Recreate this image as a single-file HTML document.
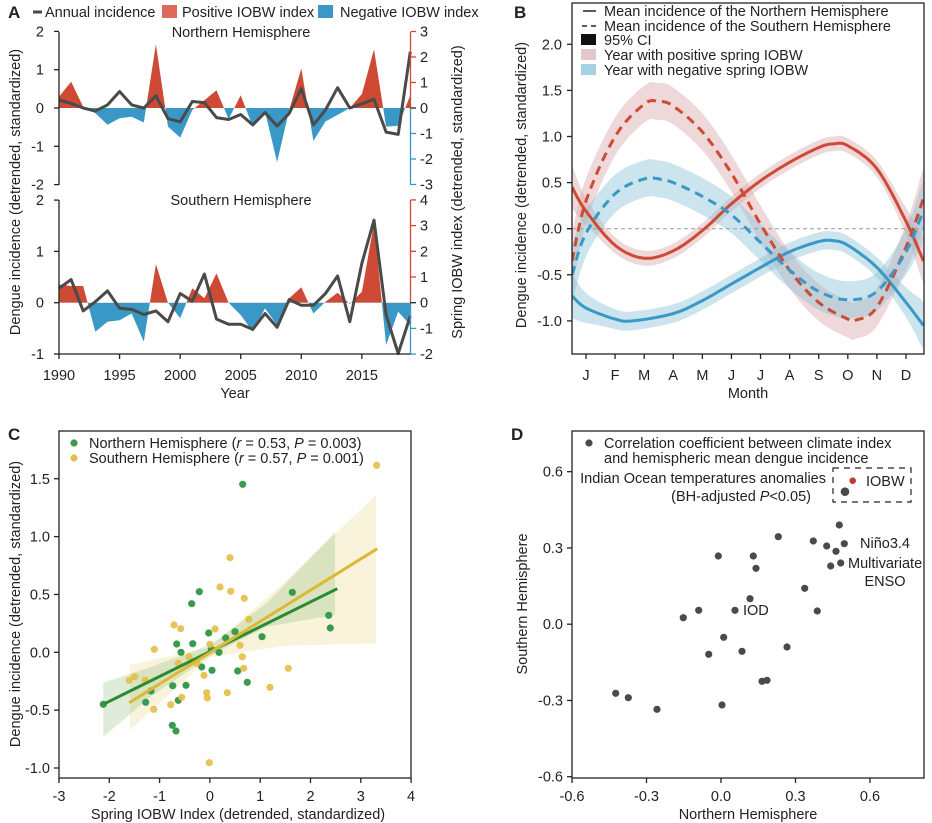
<!DOCTYPE html>
<html><head><meta charset="utf-8"><style>
html,body{margin:0;padding:0;background:#fff;}
svg{display:block;font-family:"Liberation Sans",sans-serif;}
text{fill:#222;}
</style></head><body>
<svg id="s" width="932" height="823" xmlns="http://www.w3.org/2000/svg">
<defs>
<clipPath id="cpA1"><rect x="59" y="0" width="352" height="108"/></clipPath>
<clipPath id="cnA1"><rect x="59" y="108" width="352" height="100"/></clipPath>
<clipPath id="cpA2"><rect x="59" y="150" width="352" height="152.7"/></clipPath>
<clipPath id="cnA2"><rect x="59" y="302.7" width="352" height="100"/></clipPath>
<clipPath id="cB"><rect x="572" y="3" width="352" height="351"/></clipPath>
</defs>
<g id="g"></g>
</svg>
<script>
var S='';
function T(x,y,t,o){o=o||{};S+='<text x="'+x+'" y="'+y+'" font-size="'+(o.fs||14.5)+'"'+(o.a?' text-anchor="'+o.a+'"':'')+(o.fw?' font-weight="bold"':'')+(o.tr?' transform="'+o.tr+'"':'')+(o.fill?' style="fill:'+o.fill+'"':'')+'>'+t+'</text>';}
function L(x1,y1,x2,y2,c,w,d){S+='<line x1="'+x1+'" y1="'+y1+'" x2="'+x2+'" y2="'+y2+'" stroke="'+(c||'#222')+'" stroke-width="'+(w||1.3)+'"'+(d?' stroke-dasharray="'+d+'"':'')+'/>';}
function C(x,y,r,c){S+='<circle cx="'+x+'" cy="'+y+'" r="'+r+'" fill="'+c+'"/>';}
var red='#cf4a35',blue='#3a98c6',gray='#4a4a4a';
// ---------- Panel A
T(8,18,'A',{fs:17,fw:1});
L(33,12,42,12,gray,3);T(45,17,'Annual incidence');
S+='<rect x="162" y="5" width="15" height="13" fill="#dd6a5a"/>';T(182,17,'Positive IOBW index');
S+='<rect x="318" y="5" width="15" height="13" fill="'+blue+'"/>';T(340,17,'Negative IOBW index');
function yx(yr){return 59+(yr-1990)*12.115;}
var nhI=[0.21,0.12,0,-0.08,0.08,0.43,0.08,0,0.32,-0.28,-0.36,0.17,0.14,-0.25,-0.3,-0.17,-0.44,-0.12,-0.47,-0.14,0.51,-0.44,-0.05,0.53,0,0.11,0.23,-0.63,-0.69,1.47];
var nhO=[0.44,1.03,0.05,-0.2,-0.66,-0.4,-0.34,-0.57,2.5,-0.73,-1.16,-0.08,0.3,0.7,-0.43,0.5,-0.73,-0.14,-2.12,-0.08,1.55,-1.29,-0.53,-0.27,0,0.55,2.3,-0.73,-0.7,0.5];
var shI=[0.28,0.45,-0.16,0.02,0.23,-0.11,-0.13,-0.23,-0.16,-0.37,0.18,0.03,0.56,-0.32,-0.42,-0.42,-0.52,-0.21,-0.48,0.06,-0.05,-0.05,0.18,0.52,-0.37,0.77,1.61,-0.24,-0.99,-0.26];
var shO=[0.71,0.65,0.65,-1.13,-0.74,-0.68,-0.42,-1.52,1.5,0,-0.6,0.56,0.17,1.14,0,-0.48,-1.13,-0.22,-0.87,0.17,0.6,-0.42,0.04,0.39,-0.05,0.43,3.1,-1.65,-0.35,-0.87];
function areaA(d,y0,u,cp,cn){var p=yx(1990)+','+y0;for(var i=0;i<d.length;i++)p+=' '+yx(1990+i).toFixed(1)+','+(y0-d[i]*u).toFixed(1);p+=' '+yx(2019)+','+y0;
S+='<polygon points="'+p+'" fill="'+red+'" clip-path="url(#'+cp+')"/>';S+='<polygon points="'+p+'" fill="'+blue+'" clip-path="url(#'+cn+')"/>';}
function lineA(d,y0,u){var p='';for(var i=0;i<d.length;i++)p+=yx(1990+i).toFixed(1)+','+(y0-d[i]*u).toFixed(1)+' ';S+='<polyline points="'+p+'" fill="none" stroke="'+gray+'" stroke-width="3" stroke-linejoin="round"/>';}
areaA(nhO,108,25.5,'cpA1','cnA1');lineA(nhI,108,38.3);
areaA(shO,302.7,25.7,'cpA2','cnA2');lineA(shI,302.7,51.3);
L(59,32,59,185);[2,1,0,-1,-2].forEach(function(v){var y=108-v*38.3;L(54,y,59,y);T(44,y+5,v==0?'0':(v<0?'-'+(-v):v),{a:'end'});});
L(410.5,32,410.5,108,red);L(410.5,108,410.5,185,blue);
[3,2,1,0,-1,-2,-3].forEach(function(v){var y=108-v*25.5;L(410.5,y,416,y,v>0?red:(v<0?blue:'#222'));T(420,y+5,v<0?'-'+(-v):v);});
T(241,37,'Northern Hemisphere',{a:'middle'});
L(59,200,59,354);[2,1,0,-1].forEach(function(v){var y=302.7-v*51.3;L(54,y,59,y);T(44,y+5,v<0?'-'+(-v):v,{a:'end'});});
L(410.5,200,410.5,302.7,red);L(410.5,302.7,410.5,354,blue);
[4,3,2,1,0,-1,-2].forEach(function(v){var y=302.7-v*25.7;L(410.5,y,416,y,v>0?red:(v<0?blue:'#222'));T(420,y+5,v<0?'-'+(-v):v);});
T(241,205,'Southern Hemisphere',{a:'middle'});
L(59,354,410.5,354);
[1990,1995,2000,2005,2010,2015].forEach(function(y){var x=yx(y);L(x,354,x,359);T(x,380,y,{a:'middle'});});
T(235,398,'Year',{a:'middle'});
T(20,192,'Dengue incidence (detrended, standardized)',{a:'middle',tr:'rotate(-90 20 192)'});
T(462,192,'Spring IOBW index (detrended, standardized)',{a:'middle',tr:'rotate(-90 462 192)'});
// ---------- Panel B
T(514,18,'B',{fs:17,fw:1});
function bx(t){return 586+t*29.09;}function by(v){return 228.7-v*92.2;}
function cr(pts,n){var out=[];for(var i=0;i<pts.length-1;i++){var p0=pts[i-1]||pts[i],p1=pts[i],p2=pts[i+1],p3=pts[i+2]||pts[i+1];for(var k=0;k<n;k++){var s=k/n,s2=s*s,s3=s2*s;var f=function(a,b,c,d){return 0.5*((2*b)+(-a+c)*s+(2*a-5*b+4*c-d)*s2+(-a+3*b-3*c+d)*s3);};out.push([f(p0[0],p1[0],p2[0],p3[0]),f(p0[1],p1[1],p2[1],p3[1])]);}}out.push(pts[pts.length-1]);return out;}
var curves=[
{c:red,d:0,hw:0.08,he:0.16,p:[[-0.48,0.45],[0,0.19],[1,-0.18],[2,-0.32],[3,-0.24],[4,-0.02],[5,0.27],[6,0.52],[7,0.72],[8,0.88],[8.5,0.92],[9,0.9],[10,0.65],[11,0.08],[11.6,-0.35]]},
{c:blue,d:0,hw:0.1,he:0.15,p:[[-0.48,-0.73],[0,-0.86],[1,-0.98],[1.6,-1.0],[3,-0.92],[4,-0.78],[5,-0.6],[6,-0.42],[7,-0.25],[8,-0.14],[8.5,-0.13],[9,-0.18],[10,-0.42],[11,-0.8],[11.6,-1.05]]},
{c:red,d:1,hw:0.2,he:0.12,p:[[-0.48,-0.35],[0,0.3],[1,1.0],[2,1.35],[2.5,1.38],[3,1.33],[4,1.05],[5,0.6],[6,0.05],[7,-0.45],[8,-0.8],[9,-0.98],[9.3,-0.99],[10,-0.85],[11,-0.2],[11.6,0.33]]},
{c:blue,d:1,hw:0.2,he:0.12,p:[[-0.48,-0.5],[0,-0.05],[1,0.38],[2,0.54],[2.5,0.54],[3,0.5],[4,0.35],[5,0.15],[6,-0.15],[7,-0.45],[8,-0.68],[9,-0.77],[10,-0.68],[11,-0.25],[11.6,0.2]]}];
function hwf(cv,t){var e=Math.min(1,Math.abs(t-5.5)/6);return cv.hw+cv.he*Math.pow(e,10);}
S+='<g clip-path="url(#cB)">';
curves.forEach(function(cv){var q=cr(cv.p,12);var up='',dn='';q.forEach(function(a){up+=bx(a[0]).toFixed(1)+','+by(a[1]+hwf(cv,a[0])).toFixed(1)+' ';});for(var i=q.length-1;i>=0;i--){var a=q[i];dn+=bx(a[0]).toFixed(1)+','+by(a[1]-hwf(cv,a[0])).toFixed(1)+' ';}
S+='<polygon points="'+up+dn+'" fill="'+(cv.c==red?'#d9a8ab':'#8cc3d8')+'" fill-opacity="0.45"/>';});
L(572,228.7,924,228.7,'#999',1,'4,3');
curves.forEach(function(cv){var q=cr(cv.p,12);var p='';q.forEach(function(a){p+=bx(a[0]).toFixed(1)+','+by(a[1]).toFixed(1)+' ';});S+='<polyline points="'+p+'" fill="none" stroke="'+cv.c+'" stroke-width="3"'+(cv.d?' stroke-dasharray="9,6"':'')+'/>';});
S+='</g>';
S+='<rect x="572" y="3" width="352" height="351" fill="none" stroke="#222" stroke-width="1.3"/>';
[2,1.5,1,0.5,0,-0.5,-1].forEach(function(v){var y=by(v);L(567,y,572,y);T(562,y+5,(v<0?'-':'')+Math.abs(v).toFixed(1),{a:'end'});});
'JFMAMJJASOND'.split('').forEach(function(m,i){var x=bx(i);L(x,354,x,359);T(x,380,m,{a:'middle'});});
T(748,398,'Month',{a:'middle'});
T(526,185,'Dengue incidence (detrended, standardized)',{a:'middle',tr:'rotate(-90 526 185)'});
L(583,11,596,11,'#222',1.5);T(604,16,'Mean incidence of the Northern Hemisphere');
L(582,26,587,26,'#222',1.5);L(591,26,596,26,'#222',1.5);T(604,31,'Mean incidence of the Southern Hemisphere');
S+='<rect x="581" y="34" width="15" height="11" fill="#111"/>';T(604,45,'95% CI');
S+='<rect x="581" y="49" width="15" height="11" fill="#e2c8cb"/>';T(604,60,'Year with positive spring IOBW');
S+='<rect x="581" y="64" width="15" height="11" fill="#a6d2e2"/>';T(604,75,'Year with negative spring IOBW');
// ---------- Panel C
T(8,440,'C',{fs:17,fw:1});
function zc(a){return (a/3).toFixed(1);}function zcy(a){return (410+a/3).toFixed(1);}
function poly(pts,c){var p='';pts.forEach(function(a){p+=zc(a[0])+','+zcy(a[1])+' ';});S+='<polygon points="'+p+'" fill="'+c+'"/>';}
poly([[390,765],[630,712],[850,520],[1128,255],[1128,700],[850,708],[630,742],[390,960]],'rgba(240,225,165,0.4)');
poly([[310,818],[450,772],[630,705],[800,580],[1005,367],[1005,615],[800,650],[630,738],[450,862],[310,980]],'rgba(140,185,120,0.28)');
var G=[[728,223],[598,545],[575,581],[877,547],[986,616],[991,654],[530,702],[578,701],[543,727],[626,669],[705,665],[677,684],[786,680],[657,727],[605,771],[636,781],[713,783],[742,817],[518,827],[558,826],[453,843],[437,877],[535,871],[517,946],[528,963],[310,883],[634,718]];
var Y=[[1130,166],[690,443],[660,531],[692,544],[733,565],[746,628],[522,645],[542,656],[645,657],[630,703],[720,706],[727,740],[731,775],[463,718],[567,740],[535,760],[590,760],[612,796],[388,811],[404,800],[436,810],[461,898],[512,884],[545,862],[620,848],[622,864],[682,848],[810,832],[865,775],[628,1058]];
G.forEach(function(a){C(zc(a[0]),zcy(a[1]),3.6,'#3a9a4e');});
Y.forEach(function(a){C(zc(a[0]),zcy(a[1]),3.6,'rgba(228,190,70,0.9)');});
L(zc(310),zcy(883),zc(1012),zcy(536),'#2a8a36',3);
L(zc(388),zcy(878),zc(1132),zcy(416),'#dbb935',3);
S+='<rect x="59" y="431" width="352" height="347" fill="none" stroke="#222" stroke-width="1.3"/>';
[1.5,1,0.5,0,-0.5,-1].forEach(function(v){var y=652.3-v*115.7;L(54,y,59,y);T(50,y+5,(v<0?'-':'')+Math.abs(v).toFixed(1),{a:'end'});});
[-3,-2,-1,0,1,2,3,4].forEach(function(v){var x=59+(v+3)*50.3;L(x,778,x,783);T(x,801,v<0?'-'+(-v):v,{a:'middle'});});
T(238,819,'Spring IOBW Index (detrended, standardized)',{a:'middle'});
T(20,604,'Dengue incidence (detrended, standardized)',{a:'middle',tr:'rotate(-90 20 604)'});
C(74,443,3.6,'#3a9a4e');T(89,448,'Northern Hemisphere (<tspan font-style="italic">r</tspan> = 0.53, <tspan font-style="italic">P</tspan> = 0.003)');
C(74,458,3.6,'#e2bf4a');T(89,463,'Southern Hemisphere (<tspan font-style="italic">r</tspan> = 0.57, <tspan font-style="italic">P</tspan> = 0.001)');
// ---------- Panel D
T(511,440,'D',{fs:17,fw:1});
function dz(a){return (466+a/3).toFixed(1);}
var D=[[1120,345],[937,380],[1042,393],[1082,408],[1135,401],[1110,424],[1124,459],[1094,468],[757,438],[862,438],[870,475],[1016,535],[852,566],[698,601],[807,601],[1054,603],[652,623],[773,682],[728,733],[828,724],[963,711],[888,814],[903,811],[449,850],[487,863],[573,898],[768,885]];
D.forEach(function(a){C(dz(a[0]),zcy(a[1]),3.6,'#4a4a4a');});
C(dz(1137),zcy(245),4.3,'#4a4a4a');C(dz(1160),zcy(212),3.3,'#c43a2e');
S+='<rect x="833" y="468" width="78" height="34" fill="none" stroke="#222" stroke-width="1.2" stroke-dasharray="6,5"/>';
S+='<rect x="572" y="431" width="352" height="347" fill="none" stroke="#222" stroke-width="1.3"/>';
[0.6,0.3,0,-0.3,-0.6].forEach(function(v){var y=624.2-v*254.2;L(567,y,572,y);T(563,y+5,(v<0?'-':'')+Math.abs(v).toFixed(1),{a:'end'});});
[-0.6,-0.3,0,0.3,0.6].forEach(function(v){var x=721+v*248.3;L(x,778,x,783);T(x,801,(v<0?'-':'')+Math.abs(v).toFixed(1),{a:'middle'});});
T(748,819,'Northern Hemisphere',{a:'middle'});
T(527,604,'Southern Hemisphere',{a:'middle',tr:'rotate(-90 527 604)'});
C(589,443,3.6,'#4a4a4a');T(604,448,'Correlation coefficient between climate index');T(604,463,'and hemispheric mean dengue incidence');
T(826,483,'Indian Ocean temperatures anomalies',{a:'end'});
T(811,501,'(BH-adjusted <tspan font-style="italic">P</tspan>&lt;0.05)',{a:'end'});
T(866,486,'IOBW');T(860,548,'Niño3.4');T(848,568,'Multivariate');T(885,586,'ENSO',{a:'middle'});T(743,615,'IOD');
document.getElementById('g').innerHTML=S;
</script>
</body></html>
